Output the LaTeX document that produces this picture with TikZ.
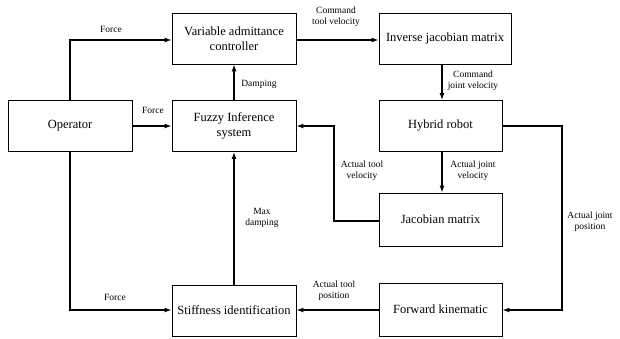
\documentclass[tikz,border=0pt]{standalone}
\usepackage{fontspec}
\setmainfont{Liberation Serif}
\usetikzlibrary{arrows.meta}
\begin{document}
\begin{tikzpicture}[x=1pt,y=-1pt,
  blk/.style={draw,line width=0.9pt,minimum width=124pt,minimum height=51pt,align=center,font=\fontsize{12.5}{14.5}\selectfont,inner sep=1pt},
  lbl/.style={font=\fontsize{9.5}{11}\selectfont,align=center,inner sep=0pt},
  conn/.style={line width=1.3pt},
  arr/.style={conn,-{Latex[length=7pt,width=5pt]}}]
\useasboundingbox (0,0) rectangle (620,338);
\node[blk] (vac) at (234,38.5) {Variable admittance\\controller};
\node[blk] (fis) at (234,126) {Fuzzy Inference\\system};
\node[blk] (op) at (70,126) {Operator};
\node[blk] (sti) at (234,310.5) {Stiffness identification};
\node[blk,minimum width=132pt] (ijm) at (445,38.5) {Inverse jacobian matrix};
\node[blk,minimum width=123pt] (hr) at (440.5,126) {Hybrid robot};
\node[blk,minimum width=123pt,minimum height=53pt] (jm) at (440.5,219.5) {Jacobian matrix};
\node[blk,minimum width=123pt,minimum height=53pt] (fk) at (440.5,309.5) {Forward kinematic};
\coordinate (c1) at (70,40);
\coordinate (c2) at (70,310);
\coordinate (c3) at (334,221);
\coordinate (c4) at (334,126);
\coordinate (c5) at (562,126);
\coordinate (c6) at (562,310);
% connectors
\draw[arr] (op.north) -- (c1) -- (vac.west |- c1);
\draw[arr] (op.east) -- (fis.west);
\draw[arr] (op.south) -- (c2) -- (sti.west |- c2);
\draw[arr] (fis.north) -- (vac.south);
\draw[arr] (sti.north) -- (fis.south);
\draw[arr] (vac.east |- c1) -- (ijm.west |- c1);
\draw[arr] (ijm.south -| 442,0) -- (hr.north -| 442,0);
\draw[arr] (hr.south -| 442,0) -- (jm.north -| 442,0);
\draw[arr] (jm.west |- c3) -- (c3) -- (c4) -- (fis.east);
\draw[arr] (hr.east) -- (c5) -- (c6) -- (fk.east |- c6);
\draw[arr] (fk.west |- c6) -- (sti.east |- c6);
% labels
\node[lbl] (l1) at (111,29) {Force};
\node[lbl] (l2) at (153,110) {Force};
\node[lbl] (l3) at (115,297) {Force};
\node[lbl] (l4) at (259,84) {Damping};
\node[lbl] (l5) at (262,218) {Max\\damping};
\node[lbl] (l6) at (336,17) {Command\\tool velocity};
\node[lbl] (l7) at (473,81) {Command\\joint velocity};
\node[lbl] (l8) at (473,171) {Actual joint\\velocity};
\node[lbl] (l9) at (362,171) {Actual tool\\velocity};
\node[lbl] (l10) at (590,222) {Actual joint\\position};
\node[lbl] (l11) at (334,291) {Actual tool\\position};
\end{tikzpicture}
\end{document}
